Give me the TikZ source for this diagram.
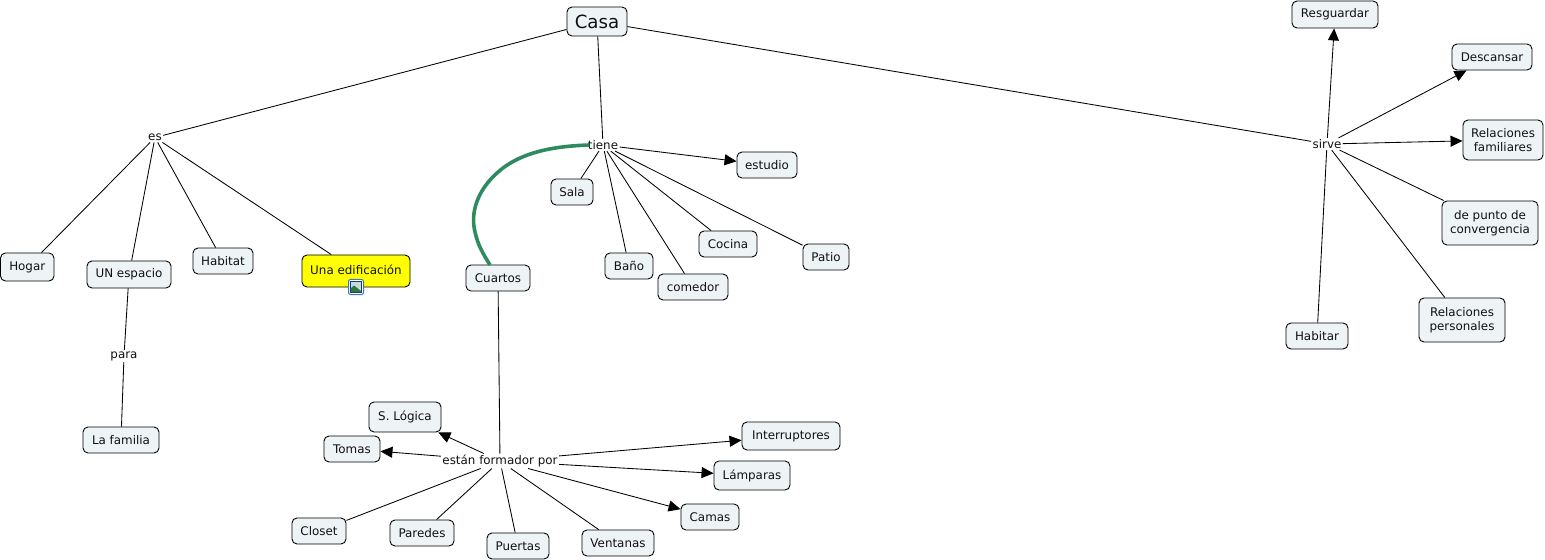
\documentclass[tikz,border=0pt]{standalone}
\usepackage{fontspec}
\setmainfont{DejaVu Sans}
\usetikzlibrary{arrows.meta}
\definecolor{boxfill}{HTML}{EEF3F6}
\definecolor{ink}{HTML}{111111}
\definecolor{linkgreen}{HTML}{2E8B5F}
\definecolor{brightyellow}{RGB}{255,255,0}
\definecolor{iconblue}{HTML}{3A78C8}
\definecolor{iconsky}{HTML}{C4D8EE}
\definecolor{iconsun}{HTML}{E8D890}
\definecolor{iconhill}{HTML}{2F7A3A}
\definecolor{iconnavy}{HTML}{1F3A6E}
\tikzset{
  conceptbox/.style={draw=black,line width=0.9bp,fill=boxfill,rounded corners=5bp,inner sep=0pt,align=center,text=ink,font=\fontsize{11.9bp}{14bp}\selectfont},
  linklabel/.style={inner sep=0.5bp,outer sep=1bp,text=ink,font=\fontsize{11.9bp}{14bp}\selectfont},
  plainlink/.style={draw=black,line width=0.85bp},
  arrowlink/.style={draw=black,line width=0.85bp,-{Triangle[length=12bp,width=11bp]}},
}
\newcommand{\concept}[7][]{%
  \pgfmathsetmacro{\cxv}{(#3+#5)/2}%
  \pgfmathsetmacro{\cyv}{(#4+#6)/2}%
  \pgfmathsetmacro{\wv}{#5-#3}%
  \pgfmathsetmacro{\hv}{#6-#4}%
  \node[conceptbox,minimum width=\wv bp,minimum height=\hv bp,#1] (#2) at (\cxv,\cyv) {#7};%
}
\begin{document}
\begin{tikzpicture}[x=1bp,y=-1bp]
\useasboundingbox (0,0) rectangle (1545,560);
\concept[font=\fontsize{18.2bp}{20bp}\selectfont]{casa}{567}{7}{627}{36}{Casa}
\concept{resguardar}{1292}{1}{1378}{28}{Resguardar}
\concept{descansar}{1452}{44}{1532}{70}{Descansar}
\concept{relfam}{1463}{120}{1543}{160}{Relaciones\\familiares}
\concept{punto}{1442}{201}{1538}{245}{de punto de\\convergencia}
\concept{relper}{1419}{298}{1505}{342}{Relaciones\\personales}
\concept{habitar}{1286}{323}{1348}{349}{Habitar}
\concept{hogar}{0.5}{253}{54}{281}{Hogar}
\concept{espacio}{87}{261}{171}{288}{UN espacio}
\concept{habitat}{193}{248}{253}{274}{Habitat}
\concept[fill=brightyellow]{edif}{302}{255}{410}{287}{\raisebox{2.5bp}{Una edificación}}
\concept{cuartos}{466}{265}{530}{291}{Cuartos}
\concept{sala}{551}{179}{593}{205}{Sala}
\concept{bano}{605}{253}{653}{279}{Baño}
\concept{comedor}{658}{274}{728}{300}{comedor}
\concept{cocina}{699}{231}{757}{257}{Cocina}
\concept{patio}{803}{244}{849}{270}{Patio}
\concept{estudio}{737}{152}{797}{178}{estudio}
\concept{familia}{83}{427}{159}{453}{La familia}
\concept{logica}{369}{402}{441}{432}{S. Lógica}
\concept{tomas}{324}{436}{380}{462}{Tomas}
\concept{interr}{742}{422}{840}{450}{Interruptores}
\concept{lamparas}{714}{461}{790}{490}{Lámparas}
\concept{camas}{681}{504}{739}{530}{Camas}
\concept{closet}{292}{518}{346}{544}{Closet}
\concept{paredes}{390}{520}{454}{546}{Paredes}
\concept{puertas}{487}{533}{549}{559}{Puertas}
\concept{ventanas}{582}{530}{654}{556}{Ventanas}
\node[linklabel] (es) at (155,137.5) {es};
\node[linklabel] (tiene) at (603,145) {tiene};
\node[linklabel] (sirve) at (1327,144) {sirve};
\node[linklabel] (para) at (124,356) {para};
\node[linklabel] (estan) at (500,461) {están formador por};
\draw[plainlink] (casa) -- (es);
\draw[plainlink] (casa) -- (tiene);
\draw[plainlink] (casa) -- (sirve);
\foreach \t in {hogar,espacio,habitat,edif} \draw[plainlink] (es) -- (\t);
\draw[plainlink] (espacio) -- (para);
\draw[plainlink] (para) -- (familia);
\foreach \t in {sala,bano,comedor,cocina,patio} \draw[plainlink] (tiene) -- (\t);
\draw[arrowlink] (tiene) -- (estudio);
\foreach \t in {resguardar,descansar,relfam} \draw[arrowlink] (sirve) -- (\t);
\foreach \t in {punto,relper,habitar} \draw[plainlink] (sirve) -- (\t);
\draw[plainlink] (cuartos) -- (estan);
\foreach \t in {logica,tomas,interr,lamparas,camas} \draw[arrowlink] (estan) -- (\t);
\foreach \t in {closet,paredes,puertas,ventanas} \draw[plainlink] (estan) -- (\t);
\coordinate (greenB) at (490,265);
\draw[draw=linkgreen,line width=3.6bp,line join=round] ([xshift=3bp]tiene.west) .. controls (560,146) and (522,150) .. (497,173) .. controls (478,190) and (470,212) .. (475,232) .. controls (478,245) and (482,252) .. (greenB);
\node[draw=iconblue,line width=1bp,fill=white,rounded corners=2bp,minimum size=15bp,inner sep=0pt] (icon) at (356,287) {};
\fill[fill=iconsky,draw=iconnavy,line width=0.6bp] (350.5,281.5) rectangle (361.5,292.5);
\fill[fill=iconsun] (358.5,284.5) circle (1.6);
\fill[fill=iconhill] (351,292) -- (351,288) -- (354,285.5) -- (361,291) -- (361,292) -- cycle;
\end{tikzpicture}
\end{document}
